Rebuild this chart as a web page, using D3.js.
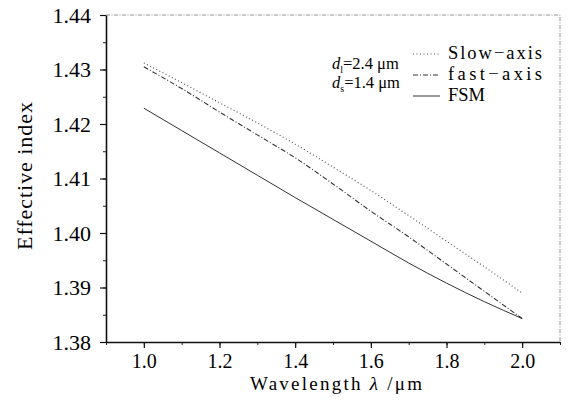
<!DOCTYPE html>
<html>
<head>
<meta charset="utf-8">
<script src="https://cdn.jsdelivr.net/npm/d3@7"></script>
<style>
  body { margin: 0; background: #fff; }
  svg { font-family: "Liberation Serif", "Times New Roman", serif; }
  .tick text { font-size: 22px; fill: #000; }
</style>
</head>
<body>
<svg id="chart" width="568" height="406"></svg>
<script>
// --- Données ---
const wavelength = [1.0, 1.1, 1.2, 1.3, 1.4, 1.5, 1.6, 1.7, 1.8, 1.9, 2.0];
const slowAxis = [1.4312, 1.4276, 1.4239, 1.4202, 1.4163, 1.4121, 1.4078, 1.4032, 1.3985, 1.3938, 1.3890];
const fastAxis = [1.4305, 1.4265, 1.4222, 1.4180, 1.4138, 1.4090, 1.4040, 1.3993, 1.3943, 1.3893, 1.3843];
const fsm      = [1.4229, 1.4188, 1.4147, 1.4106, 1.4065, 1.4025, 1.3985, 1.3945, 1.3908, 1.3874, 1.3843];
const xTicks = [1.0, 1.2, 1.4, 1.6, 1.8, 2.0];
const yTicks = [1.38, 1.39, 1.40, 1.41, 1.42, 1.43, 1.44];
const seriesNames = ["Slow\u2212axis", "fast\u2212axis", "FSM"];

const svg = d3.select("#chart");
const mLeft = 106, mRight = 560, mTop = 15, mBottom = 342;
const serif = "Liberation Serif, Times New Roman, serif";

const x = d3.scaleLinear().domain([0.9, 2.1]).range([mLeft, mRight]);
const y = d3.scaleLinear().domain([1.38, 1.44]).range([mBottom, mTop]);

// cadre haut / droit (fin, pointillé)
svg.append("path")
    .attr("d", `M${mLeft},${mTop}H${mRight}V${mBottom}`)
    .attr("fill", "none")
    .attr("stroke", "#777")
    .attr("stroke-width", 0.8)
    .attr("stroke-dasharray", "4,1.5,1,1.5");

// ticks mineurs
const minorX = d3.range(0.9, 2.101, 0.1);
svg.append("g").attr("transform", `translate(0,${mBottom})`)
    .call(d3.axisBottom(x).tickValues(minorX).tickSize(3).tickFormat(""))
    .call(g => g.select(".domain").remove())
    .call(g => g.selectAll("line").attr("stroke", "#222"));
const minorY = d3.range(1.38, 1.4401, 0.005);
svg.append("g").attr("transform", `translate(${mLeft},0)`)
    .call(d3.axisLeft(y).tickValues(minorY).tickSize(3).tickFormat(""))
    .call(g => g.select(".domain").remove())
    .call(g => g.selectAll("line").attr("stroke", "#222"));

// axes principaux
const xAxis = svg.append("g").attr("transform", `translate(0,${mBottom})`)
    .call(d3.axisBottom(x).tickValues(xTicks).tickSize(6).tickSizeOuter(0).tickPadding(6).tickFormat(d3.format(".1f")));
const yAxis = svg.append("g").attr("transform", `translate(${mLeft},0)`)
    .call(d3.axisLeft(y).tickValues(yTicks).tickSize(6).tickSizeOuter(0).tickPadding(9).tickFormat(d3.format(".2f")));
[xAxis, yAxis].forEach(a => {
    a.attr("font-family", serif);
    a.select(".domain").attr("stroke", "#111").attr("stroke-width", 1.6);
    a.selectAll(".tick line").attr("stroke", "#111").attr("stroke-width", 1.2);
});
xAxis.selectAll(".tick text").style("font-size", "20px");

// titres des axes
svg.append("text")
    .attr("x", 250).attr("y", 390)
    .attr("font-size", 19).attr("fill", "#000")
    .attr("textLength", 172).attr("lengthAdjust", "spacing")
    .html('Wavelength <tspan font-style="italic">λ</tspan> /μm');
svg.append("text")
    .attr("transform", `translate(32,250) rotate(-90)`)
    .attr("font-size", 22).attr("fill", "#000")
    .attr("textLength", 148).attr("lengthAdjust", "spacing")
    .text("Effective index");

// courbes
const line = d3.line().x((d, i) => x(wavelength[i])).y(d => y(d)).curve(d3.curveMonotoneX);
const styles = [
    { data: slowAxis, dash: "1,2.5", color: "#555", w: 1.2 },
    { data: fastAxis, dash: "5,2,1,2", color: "#333", w: 1.1 },
    { data: fsm, dash: null, color: "#333", w: 1.0 }
];
styles.forEach(s => {
    svg.append("path")
        .attr("d", line(s.data))
        .attr("fill", "none")
        .attr("stroke", s.color)
        .attr("stroke-width", s.w)
        .attr("stroke-dasharray", s.dash);
});

// légende
const legend = svg.append("g");
const legY = [59, 80, 101];
styles.forEach((s, i) => {
    legend.append("line")
        .attr("x1", 413).attr("x2", 440)
        .attr("y1", legY[i] - 5).attr("y2", legY[i] - 5)
        .attr("stroke", s.color).attr("stroke-width", s.w)
        .attr("stroke-dasharray", s.dash);
    legend.append("text")
        .attr("x", 448).attr("y", legY[i])
        .attr("font-size", 18.5).attr("fill", "#000")
        .attr("textLength", i === 2 ? null : 94).attr("lengthAdjust", "spacing")
        .text(seriesNames[i]);
});

// annotations d_l / d_s
const ann = svg.append("g").attr("font-size", 16.5).attr("fill", "#000");
ann.append("text").attr("x", 332).attr("y", 69)
    .html('<tspan font-style="italic">d</tspan><tspan font-size="10" dy="4">l</tspan><tspan dy="-4">=2.4 μm</tspan>');
ann.append("text").attr("x", 332).attr("y", 88)
    .html('<tspan font-style="italic">d</tspan><tspan font-size="10" dy="4">s</tspan><tspan dy="-4">=1.4 μm</tspan>');
</script>
</body>
</html>
